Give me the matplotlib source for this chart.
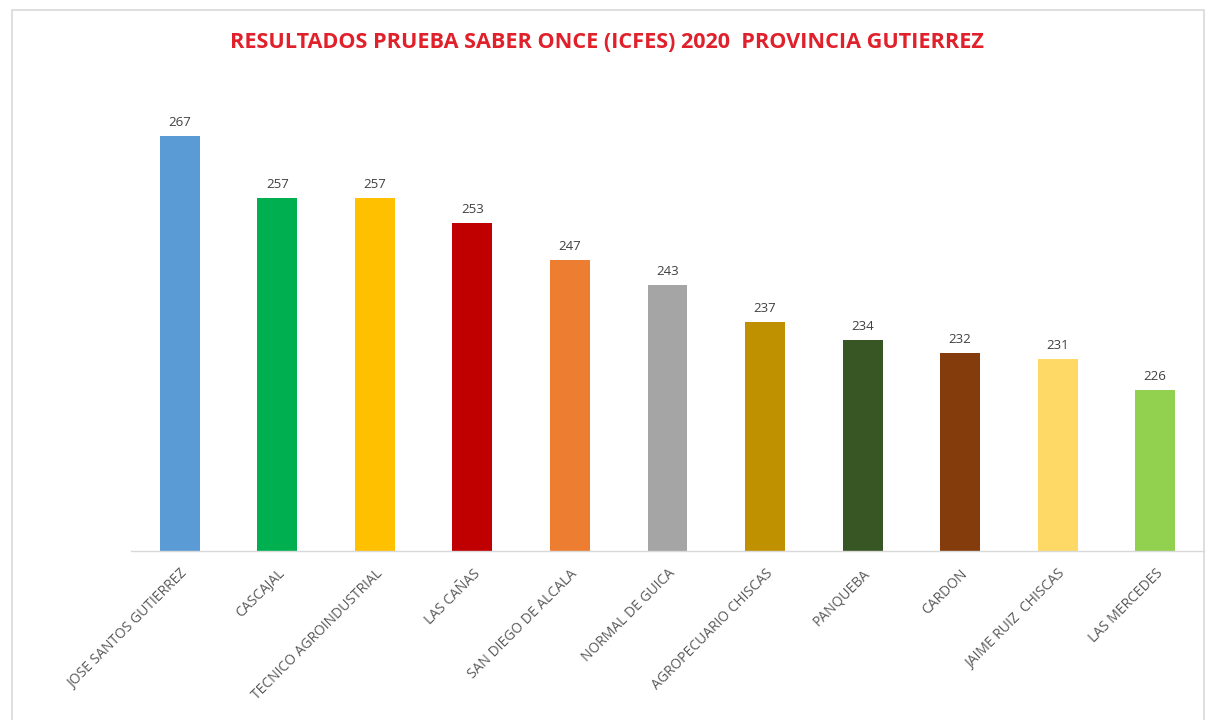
import matplotlib
matplotlib.use("Agg")
import matplotlib.pyplot as plt
from matplotlib.patches import Rectangle

categories = ["JOSE SANTOS GUTIERREZ", "CASCAJAL", "TECNICO AGROINDUSTRIAL", "LAS CAÑAS",
              "SAN DIEGO DE ALCALA", "NORMAL DE GUICA", "AGROPECUARIO CHISCAS", "PANQUEBA",
              "CARDON", "JAIME RUIZ  CHISCAS", "LAS MERCEDES"]
values = [267, 257, 257, 253, 247, 243, 237, 234, 232, 231, 226]
colors = ["#5B9BD5", "#00B050", "#FFC000", "#C00000", "#ED7D31", "#A5A5A5",
          "#BF9000", "#375623", "#843C0C", "#FFD966", "#92D050"]
title = "RESULTADOS PRUEBA SABER ONCE (ICFES) 2020  PROVINCIA GUTIERREZ"

W, H = 1211, 720
fig = plt.figure(figsize=(W / 100, H / 100), dpi=100)
fig.patch.set_facecolor("white")

# chart border
fig.add_artist(Rectangle((12 / W, -0.01), (1204 - 12) / W, 1 - 10 / H + 0.01,
                         transform=fig.transFigure, fill=False,
                         edgecolor="#D9D9D9", linewidth=1.2))

ax = fig.add_axes([131 / W, 1 - 551 / H, (1204 - 131) / W, (551 - 55.4) / H])
x = list(range(len(categories)))
bars = ax.bar(x, values, width=0.41, color=colors, zorder=2)
ax.set_ylim(200, 280)
ax.set_xlim(-0.5, len(categories) - 0.5)

for xi, v in zip(x, values):
    ax.annotate(str(v), (xi, v), xytext=(0, 5), textcoords="offset points",
                ha="center", va="bottom", fontsize=9.5, color="#404040",
                family="Open Sans")

for s in ["top", "right", "left"]:
    ax.spines[s].set_visible(False)
ax.spines["bottom"].set_color("#D9D9D9")
ax.spines["bottom"].set_linewidth(1.0)
ax.set_yticks([])
ax.set_xticks(x)
ax.set_xticklabels(categories, rotation=45, ha="right", rotation_mode="anchor",
                   fontsize=10, color="#595959", family="Open Sans")
ax.tick_params(axis="x", length=0, pad=11)

fig.text(607 / W, 1 - 42 / H, title, ha="center", va="center",
         fontsize=15.6, fontweight="bold", color="#E0202A", family="Open Sans")

fig.savefig("out.png", dpi=100)
